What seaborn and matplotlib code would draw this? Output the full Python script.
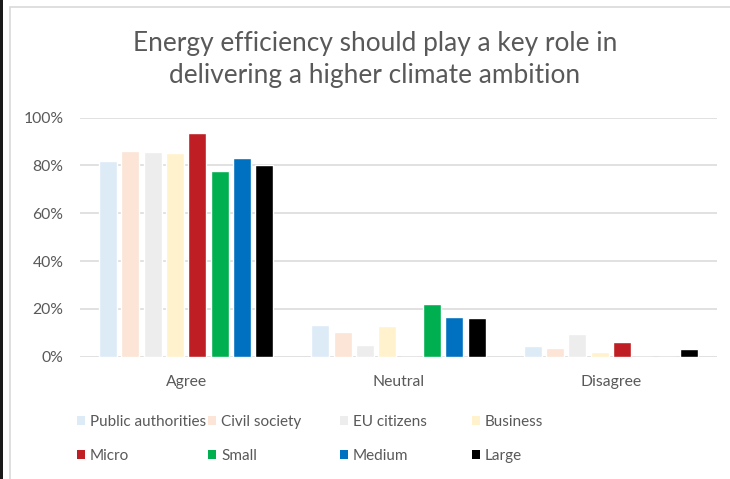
import matplotlib
matplotlib.use("Agg")
import matplotlib.pyplot as plt
import matplotlib.patches as mpatches
import seaborn as sns
import pandas as pd

categories = ["Agree", "Neutral", "Disagree"]
groups = ["Public authorities", "Civil society", "EU citizens", "Business",
          "Micro", "Small", "Medium", "Large"]
public_authorities = [0.82, 0.133, 0.045]
civil_society = [0.86, 0.102, 0.036]
eu_citizens = [0.855, 0.049, 0.094]
business = [0.851, 0.13, 0.02]
micro = [0.937, 0.0, 0.06]
small = [0.777, 0.222, 0.0]
medium = [0.83, 0.167, 0.0]
large = [0.801, 0.163, 0.032]
colors = ["#DDEBF7", "#FCE4D6", "#EDEDED", "#FFF2CC",
          "#BE1E24", "#00B050", "#0070C0", "#000000"]
yticks = [0, 0.2, 0.4, 0.6, 0.8, 1.0]
ytick_labels = ["0%", "20%", "40%", "60%", "80%", "100%"]
title = "Energy efficiency should play a key role in\ndelivering a higher climate ambition"

series = [public_authorities, civil_society, eu_citizens, business,
          micro, small, medium, large]
rows = []
for g, vals in zip(groups, series):
    for c, v in zip(categories, vals):
        rows.append({"category": c, "group": g, "value": v})
df = pd.DataFrame(rows)

sns.set_style("white")
plt.rcParams["font.family"] = ["Lato", "DejaVu Sans"]

W, H = 730, 479
fig = plt.figure(figsize=(W / 100, H / 100), dpi=100)
ax = fig.add_axes([80 / W, 1 - 356.7 / H, (717 - 80) / W, (356.7 - 117.7) / H])

sns.barplot(data=df, x="category", y="value", hue="group", order=categories,
            hue_order=groups, palette=colors, width=0.84, gap=0.19,
            legend=False, ax=ax, saturation=1, zorder=3)

ax.set_ylim(0, 1.0)
ax.set_xlim(-0.5, 2.5)
ax.set_yticks(yticks)
ax.set_yticklabels(ytick_labels)
ax.grid(axis="y", color="#D9D9D9", linewidth=1.1, zorder=0)
ax.set_axisbelow(True)
for s in ax.spines.values():
    s.set_visible(False)
ax.tick_params(axis="both", length=0, labelsize=11.3, labelcolor="#595959")
ax.tick_params(axis="y", pad=12)
ax.tick_params(axis="x", pad=13)
ax.set_xlabel("")
ax.set_ylabel("")

fig.text(375 / W, 1 - 59 / H, title, ha="center", va="center",
         fontsize=18.9, color="#595959", linespacing=1.35)

# legend: 4 columns x 2 rows, fixed column positions
col_x = [77, 208, 340, 472]
row_y = [421.7, 456]
for i, (g, col) in enumerate(zip(groups, colors)):
    r, cidx = divmod(i, 4)
    h = mpatches.Patch(facecolor=col, edgecolor="none")
    fig.legend(handles=[h], labels=[g], loc="center left",
               bbox_to_anchor=(col_x[cidx] / W, 1 - row_y[r] / H),
               frameon=False, borderpad=0, borderaxespad=0,
               handlelength=0.55, handleheight=0.55, handletextpad=0.3,
               fontsize=11, labelcolor="#595959")

# chart frame
fig.patches.append(mpatches.Rectangle((0, 0), 3 / W, 1, transform=fig.transFigure,
                                      facecolor="#1a1a1a", edgecolor="none"))
fig.patches.append(mpatches.Rectangle((9.5 / W, -0.1), 1.2, 1 - 6.5 / H + 0.1,
                                      transform=fig.transFigure, facecolor="none",
                                      edgecolor="#D9D9D9", linewidth=1.2))

fig.savefig("out.png", dpi=100)
